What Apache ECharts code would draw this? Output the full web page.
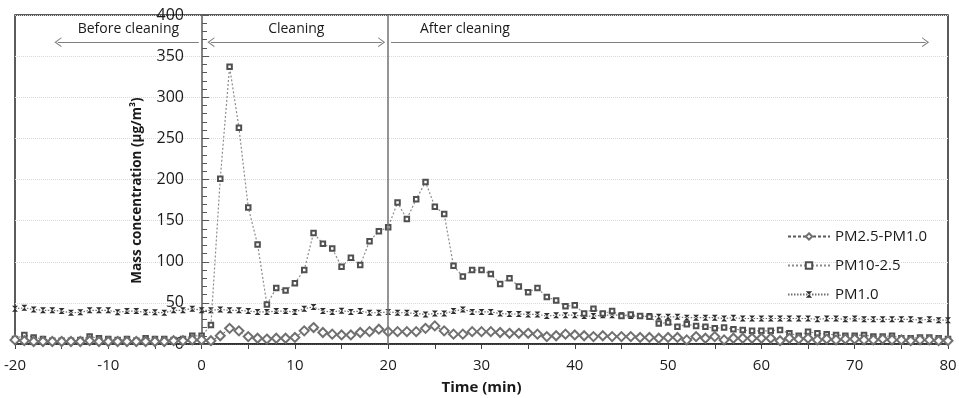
<!DOCTYPE html>
<html>
<head>
<meta charset="utf-8">
<script src="https://cdn.jsdelivr.net/npm/echarts@6/dist/echarts.min.js"></script>
<style>
  html, body { margin: 0; padding: 0; background: #fff; }
  #chart { width: 959px; height: 398px; }
</style>
</head>
<body>
<div id="chart"></div>
<script>
  // minutes relative to the start of cleaning
  let time = [-20,-19,-18,-17,-16,-15,-14,-13,-12,-11,-10,-9,-8,-7,-6,-5,-4,-3,-2,-1,
    0,1,2,3,4,5,6,7,8,9,10,11,12,13,14,15,16,17,18,19,20,
    21,22,23,24,25,26,27,28,29,30,31,32,33,34,35,36,37,38,39,40,41,42,43,44,
    45,46,47,48,49,50,51,52,53,54,55,56,57,58,59,60,61,62,63,64,65,66,67,68,69,70,
    71,72,73,74,75,76,77,78,79,80];

  let pm25_10 = [5,4,3,3,3,3,3,3,4,3,3,3,3,3,3,3,3,4,4,5,
    5,4,10,19,16,9,7,6,7,7,8,16,20,14,12,11,11,14,15,18,15,
    15,15,15,19,22,16,12,12,15,15,15,14,13,13,13,12,9,10,12,11,10,9,10,9,
    9,9,8,8,7,8,8,5,9,7,9,5,7,7,7,7,7,4,7,6,7,5,6,5,6,6,5,5,6,5,5,4,5,5,4,4];

  let pm10_25 = [6,11,8,6,4,4,4,5,9,7,6,5,6,4,7,6,6,5,6,10,
    10,23,201,337,263,166,121,48,68,65,74,90,135,122,116,94,105,96,125,137,142,
    172,152,176,197,167,158,95,82,90,90,85,73,80,70,63,68,57,53,46,47,37,43,37,40,
    34,36,34,33,25,26,21,24,22,21,19,20,18,17,16,16,16,17,13,10,15,13,12,11,10,10,11,9,9,10,7,7,8,8,7,6];

  let pm1 = [43,44,42,41,41,40,38,38.5,41,41,41,38.5,40,40,38.5,38.5,38,41,41,43,
    41,41,42,41,41,40,39,39,40,40,39,43,45,40,39,40.5,39,40,38,38,39,
    38,38,37,36,37,37,40,42,39,39,39,37,36.5,36.5,36,36,34,35,35,35,34,34,35,35,
    35,34,34,34,33,33,33,32,32,32,32,31,32,31,31,31,31,31,31,31,31,30,31,31,30,31,30,30,30,30,30,30,29,30,29,29];

  let seriesNames = ['PM2.5-PM1.0', 'PM10-2.5', 'PM1.0'];

  // phase arrows: [label, start minute, end minute, arrow at start, arrow at end]
  let phases = [
    ['Before cleaning', -15.4, -0.3, true, false],
    ['Cleaning', 1.0, 19.3, true, true],
    ['After cleaning', 20.3, 77.6, false, true]
  ];
  let phaseLevel = 367;
  let cleaningEnd = 20;

  function pairs(values) {
    return time.map(function (t, i) { return [t, values[i]]; });
  }

  let chevron = 'path://M0,10 L5,0 L10,10 L8.8,10 L5,2.6 L1.2,10 Z';
  let font = 'Open Sans';

  let markLines = [
    { xAxis: cleaningEnd, lineStyle: { color: '#7a7a7a', width: 1.6, type: 'solid' }, label: { show: false } }
  ];
  phases.forEach(function (p) {
    let isAfter = p[0] === 'After cleaning';
    markLines.push([
      {
        coord: [p[1], phaseLevel],
        symbol: p[3] ? chevron : 'none',
        lineStyle: { color: '#7f7f7f', width: 1.2, type: 'solid' },
        label: {
          show: true,
          formatter: p[0],
          position: isAfter ? 'insideStartTop' : 'middle',
          distance: isAfter ? [29, 6] : 6,
          color: '#1a1a1a',
          fontSize: 14,
          fontFamily: font
        }
      },
      { coord: [p[2], phaseLevel], symbol: p[4] ? chevron : 'none' }
    ]);
  });

  let chart = echarts.init(document.getElementById('chart'));
  let option = {
    animation: false,
    textStyle: { fontFamily: font },
    grid: {
      left: 15, right: 11, top: 15, bottom: 54,
      outerBoundsMode: 'none',
      containLabel: false,
      show: true,
      borderColor: '#262626',
      borderWidth: 1.5
    },
    legend: {
      data: seriesNames,
      orient: 'vertical',
      left: 782,
      top: 224,
      itemWidth: 42,
      itemHeight: 8,
      itemGap: 14,
      textStyle: { fontSize: 15, color: '#1a1a1a', fontFamily: font }
    },
    xAxis: {
      type: 'value',
      min: -20,
      max: 80,
      interval: 10,
      name: 'Time (min)',
      nameLocation: 'middle',
      nameGap: 36,
      nameTextStyle: { fontSize: 15, fontWeight: 'bold', color: '#1a1a1a' },
      axisLine: { lineStyle: { color: '#262626', width: 1.5 } },
      axisTick: { length: 5, lineStyle: { color: '#404040' } },
      minorTick: { show: true, splitNumber: 2, length: 5, lineStyle: { color: '#404040' } },
      splitLine: { show: false },
      axisLabel: { fontSize: 15, color: '#1a1a1a', margin: 14 }
    },
    yAxis: {
      type: 'value',
      min: 0,
      max: 400,
      interval: 50,
      position: 'left',
      // shift the axis from the grid edge to minute 0
      offset: -187,
      name: 'Mass concentration (μg/m³)',
      nameLocation: 'middle',
      nameGap: 58,
      nameTextStyle: { fontSize: 13.5, fontWeight: 'bold', color: '#1a1a1a', padding: [0, 22, 0, 0] },
      axisLine: { show: true, onZero: false, lineStyle: { color: '#595959', width: 1.5 } },
      axisTick: { show: true, inside: true, length: 7, lineStyle: { color: '#595959' } },
      minorTick: { show: true, splitNumber: 5, length: 5, lineStyle: { color: '#595959' } },
      splitLine: { show: true, lineStyle: { color: '#d9d9d9', type: 'dotted' } },
      axisLabel: { fontSize: 16, color: '#1a1a1a', margin: 18 }
    },
    series: [
      {
        name: seriesNames[0],
        type: 'line',
        data: pairs(pm25_10),
        symbol: 'emptyDiamond',
        symbolSize: 9,
        z: 4,
        lineStyle: { color: '#595959', width: 1, type: [3, 2] },
        itemStyle: { color: '#707070', borderWidth: 1.2 }
      },
      {
        name: seriesNames[1],
        type: 'line',
        data: pairs(pm10_25),
        symbol: 'emptyRect',
        symbolSize: 4.5,
        z: 3,
        lineStyle: { color: '#8c8c8c', width: 1.2, type: [2, 2] },
        itemStyle: { color: '#505050', borderWidth: 1.2 }
      },
      {
        name: seriesNames[2],
        type: 'line',
        data: pairs(pm1),
        symbol: 'path://M0,0 L10,0 L0,10 L10,10 Z',
        symbolSize: 6,
        z: 2,
        lineStyle: { color: '#6e6e6e', width: 1.2, type: [1.5, 1.5] },
        itemStyle: { color: '#2e2e2e' },
        markLine: {
          silent: true,
          symbol: ['none', 'none'],
          symbolSize: [10, 7],
          data: markLines
        }
      }
    ]
  };
  chart.setOption(option);
</script>
</body>
</html>
